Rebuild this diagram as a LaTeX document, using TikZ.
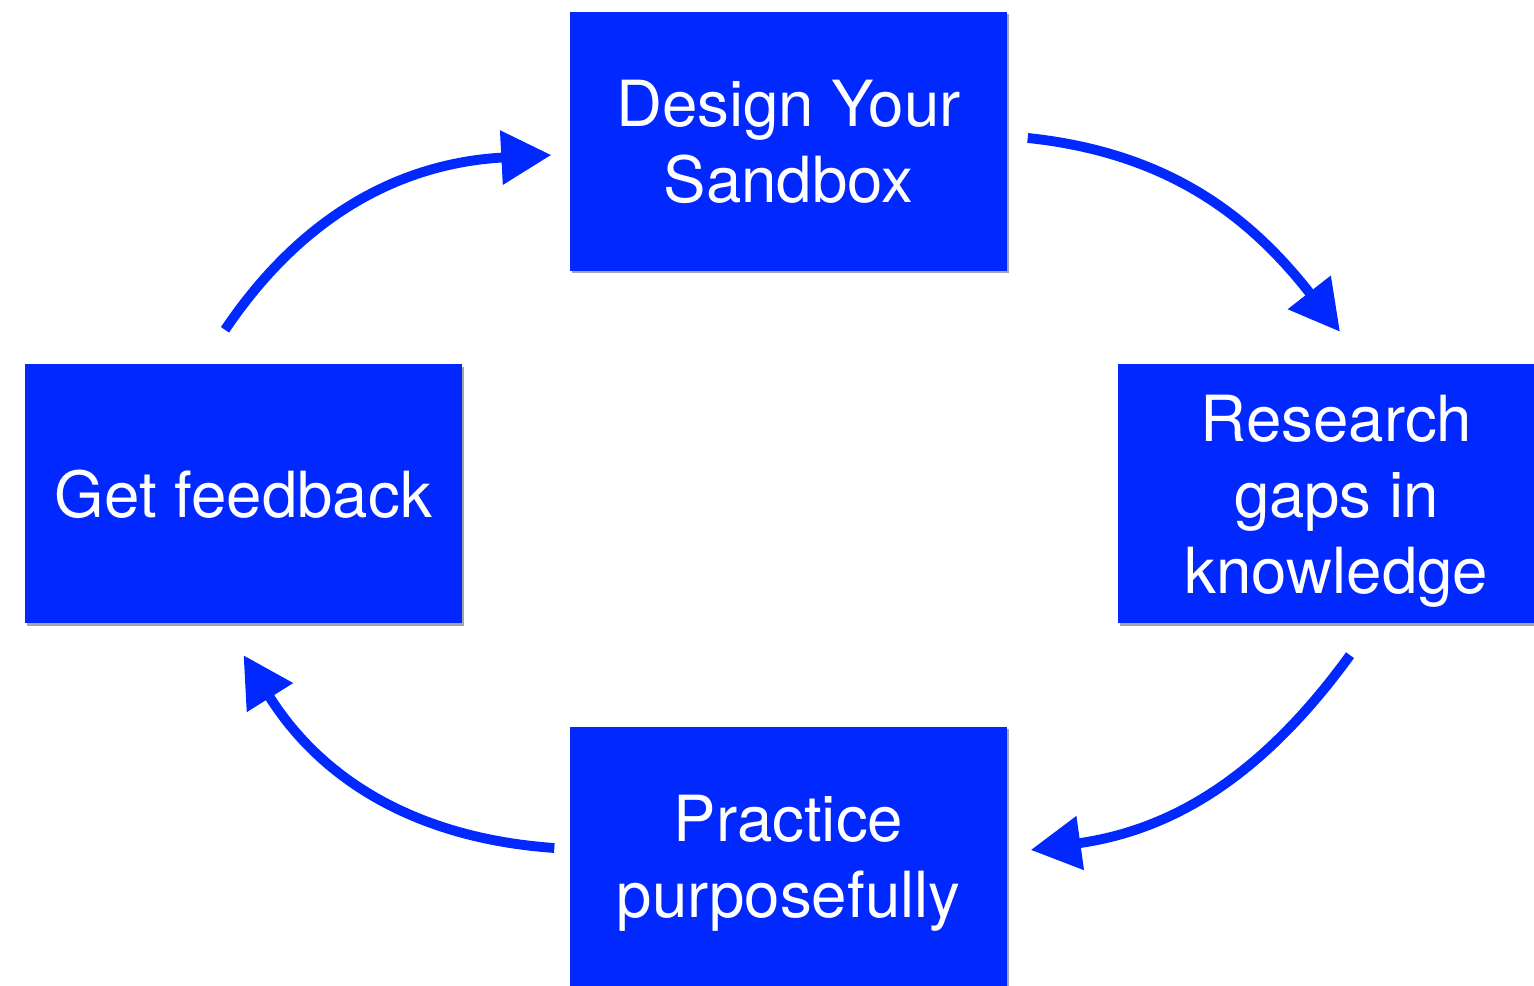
\documentclass[tikz,border=0pt]{standalone}
\usepackage{fontspec}
\setmainfont{TeX Gyre Heros}
\usetikzlibrary{arrows.meta,shadows}
\definecolor{boxblue}{RGB}{0,40,255}

\begin{document}
\begin{tikzpicture}[
  stepbox/.style={draw=none, fill=boxblue, text=white, align=center,
    minimum width=4.37cm, minimum height=2.59cm, inner sep=0pt, text depth=0pt,
    drop shadow={shadow xshift=0.6pt, shadow yshift=-0.6pt, opacity=0.35, fill=black},
    font=\fontsize{18.1}{21.6}\selectfont},
  cyclearrow/.style={draw=boxblue, line width=2.8pt,
    -{Triangle[length=0.5cm,width=0.52cm]}}
]
\useasboundingbox (0,0) rectangle (15.34,9.85);
\node [stepbox] (design) at (7.885,8.435) {Design Your\\Sandbox};
\node [stepbox] (research) at (13.365,4.91) {Research\\gaps in\\knowledge};
\node [stepbox] (practice) at (7.885,1.285) {Practice\\purposefully};
\node [stepbox] (feedback) at (2.435,4.91) {Get feedback};
% the four arrows round the cycle
\draw [cyclearrow] ([xshift=0.2cm,yshift=0.035cm]design.east)
  to [out=-6, in=128] ([xshift=0.035cm,yshift=0.32cm]research.north);
\draw [cyclearrow] ([xshift=0.135cm,yshift=-0.31cm]research.south)
  to [out=-126, in=8] ([xshift=0.23cm,yshift=0.065cm]practice.east);
\draw [cyclearrow] ([xshift=-0.15cm,yshift=0.085cm]practice.west)
  to [out=176, in=-58] ([xshift=0cm,yshift=-0.31cm]feedback.south);
\draw [cyclearrow] ([xshift=-0.185cm,yshift=0.34cm]feedback.north)
  to [out=56, in=183] ([xshift=-0.18cm,yshift=-0.135cm]design.west);
\end{tikzpicture}
\end{document}
